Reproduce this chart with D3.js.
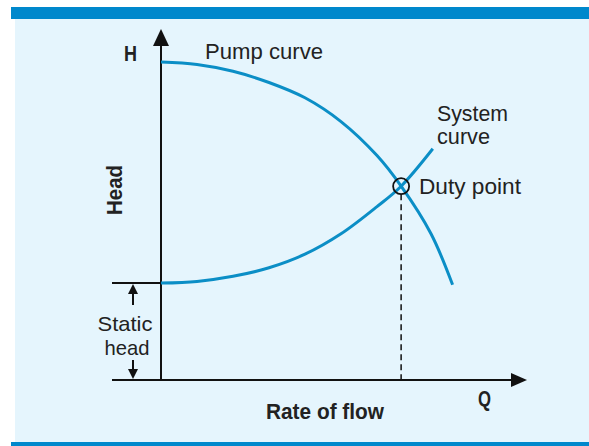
<!DOCTYPE html>
<html>
<head>
<meta charset="utf-8">
<script src="https://cdn.jsdelivr.net/npm/d3@7.9.0/dist/d3.min.js"></script>
<style>
  html, body { margin: 0; padding: 0; background: #fff; }
  svg { display: block; }
  text { font-family: "Liberation Sans", Arial, sans-serif; fill: #222; }
</style>
</head>
<body>
<div id="chart"></div>
<script>
// flow rate (Q) and head (H), arbitrary units 0..10
const pumpQ = [0, 1, 2, 3, 4, 5, 6, 6.67, 7.5, 8.1];
const pumpH = [9.35, 9.28, 9.08, 8.75, 8.3, 7.6, 6.6, 5.7, 4.3, 2.8];
const systemQ = [0, 1, 2, 3, 4, 5, 6, 6.67, 7.55];
const systemH = [2.85, 2.9, 3.05, 3.3, 3.7, 4.3, 5.1, 5.7, 6.8];
const dutyPoint = { q: 6.67, h: 5.7 };
const staticHead = 2.85;

const width = 589;
const height = 446;
const blue = '#0b8ec6';

const svg = d3.select('#chart')
  .append('svg')
  .attr('width', width)
  .attr('height', height);

// frame: blue bars top and bottom, pale panel
svg.append('rect').attr('x', 15).attr('y', 19).attr('width', width - 15).attr('height', 423).attr('fill', '#e5f5fd');
svg.append('rect').attr('x', 11).attr('y', 7).attr('width', width - 11).attr('height', 12).attr('fill', '#0088cc');
svg.append('rect').attr('x', 11).attr('y', 442).attr('width', width - 11).attr('height', 4).attr('fill', '#0088cc');

const x = d3.scaleLinear().domain([0, 10]).range([161, 521]);
const y = d3.scaleLinear().domain([0, 10]).range([380, 40]);

// axes without ticks, just the lines
svg.append('g')
  .attr('transform', `translate(${x(0)},0)`)
  .call(d3.axisLeft(y).tickValues([]).tickSizeOuter(0))
  .call(g => g.select('.domain').attr('d', `M0,${y(0)}V45`).attr('stroke', '#111').attr('stroke-width', 2));

svg.append('g')
  .attr('transform', `translate(0,${y(0)})`)
  .call(d3.axisBottom(x).tickValues([]).tickSizeOuter(0))
  .call(g => g.select('.domain').attr('d', `M112,0H513`).attr('stroke', '#111').attr('stroke-width', 2));

// arrow heads
svg.append('path').attr('d', `M${x(0)},29L${x(0) - 8},46L${x(0) + 8},46Z`).attr('fill', '#111');
svg.append('path').attr('d', `M527,${y(0)}L511,${y(0) - 7}L511,${y(0) + 7}Z`).attr('fill', '#111');

// static head bracket
const bx = 133;
svg.append('line').attr('x1', 112).attr('x2', x(0)).attr('y1', y(staticHead)).attr('y2', y(staticHead))
  .attr('stroke', '#111').attr('stroke-width', 2);
svg.append('line').attr('x1', bx).attr('x2', bx).attr('y1', y(staticHead) + 4).attr('y2', 305)
  .attr('stroke', '#111').attr('stroke-width', 2);
svg.append('line').attr('x1', bx).attr('x2', bx).attr('y1', 360).attr('y2', y(0) - 4)
  .attr('stroke', '#111').attr('stroke-width', 2);
svg.append('path').attr('d', `M${bx},${y(staticHead) + 1}L${bx - 5},${y(staticHead) + 11}L${bx + 5},${y(staticHead) + 11}Z`).attr('fill', '#111');
svg.append('path').attr('d', `M${bx},${y(0) - 1}L${bx - 5},${y(0) - 11}L${bx + 5},${y(0) - 11}Z`).attr('fill', '#111');

// curves
const line = d3.line().x(d => x(d[0])).y(d => y(d[1])).curve(d3.curveCatmullRom);
svg.append('path')
  .datum(d3.zip(pumpQ, pumpH))
  .attr('d', line)
  .attr('fill', 'none').attr('stroke', blue).attr('stroke-width', 3);
svg.append('path')
  .datum(d3.zip(systemQ, systemH))
  .attr('d', line)
  .attr('fill', 'none').attr('stroke', blue).attr('stroke-width', 3);

// duty point + dashed drop line
svg.append('line')
  .attr('x1', x(dutyPoint.q)).attr('x2', x(dutyPoint.q))
  .attr('y1', y(dutyPoint.h) + 8).attr('y2', y(0))
  .attr('stroke', '#111').attr('stroke-width', 1.5).attr('stroke-dasharray', '6,4');
svg.append('circle')
  .attr('cx', x(dutyPoint.q)).attr('cy', y(dutyPoint.h)).attr('r', 8)
  .attr('fill', 'none').attr('stroke', '#111').attr('stroke-width', 1.8);

// labels, squeezed to the condensed look of the original
const label = (t, px, py, len, opts = {}) => svg.append('text')
  .attr('x', px).attr('y', py)
  .attr('font-size', opts.size || 22)
  .attr('font-weight', opts.bold ? 'bold' : 'normal')
  .attr('text-anchor', opts.anchor || 'start')
  .attr('textLength', len)
  .attr('lengthAdjust', 'spacingAndGlyphs')
  .text(t);

label('H', 124, 61, 13, { bold: true });
label('Pump curve', 205, 59, 118);
label('System', 437, 121, 71);
label('curve', 437, 144, 53);
label('Duty point', 419, 194, 102);
label('Static', 125, 331, 55, { anchor: 'middle', size: 21 });
label('head', 127, 355, 45, { anchor: 'middle', size: 21 });
label('Rate of flow', 325, 419, 118, { bold: true, anchor: 'middle' });
label('Q', 478, 406, 13, { bold: true });
svg.append('text')
  .attr('transform', 'translate(122,190) rotate(-90)')
  .attr('text-anchor', 'middle')
  .attr('font-size', 22)
  .attr('font-weight', 'bold')
  .attr('textLength', 50)
  .attr('lengthAdjust', 'spacingAndGlyphs')
  .text('Head');
</script>
</body>
</html>
